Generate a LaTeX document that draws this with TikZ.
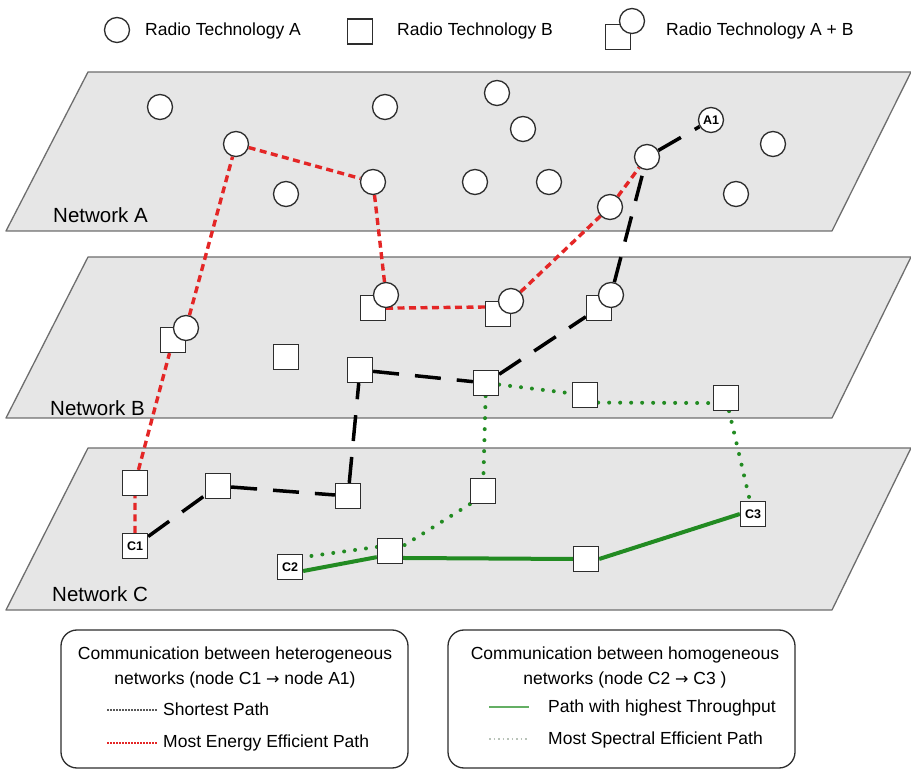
\documentclass[tikz,border=0pt]{standalone}
\usepackage{fontspec}
\setmainfont{Liberation Sans}
\newfontfamily\arrfont{DejaVu Sans}
\pgfdeclarelayer{bg}
\pgfdeclarelayer{edges}
\pgfsetlayers{bg,edges,main}
\definecolor{planegray}{RGB}{230,230,230}
\definecolor{edgegray}{RGB}{110,110,110}
\definecolor{nodeedge}{RGB}{45,45,45}
\definecolor{myred}{RGB}{228,38,38}
\definecolor{mygreen}{RGB}{34,139,34}
\definecolor{lightgreen}{RGB}{100,175,100}
\definecolor{paledot}{RGB}{185,195,185}
\newcommand\legfont{\fontsize{17.5}{25}\selectfont}
\newcommand\netfont{\fontsize{20.5}{24}\selectfont}
\newcommand\idfont{\bfseries\fontsize{12.5}{14}\selectfont}
\newcommand\rarr{{\arrfont\fontsize{16}{25}\selectfont →}}
\begin{document}
\begin{tikzpicture}[x=1pt,y=-1pt,
  plane/.style={fill=planegray, draw=edgegray, line width=1.3pt, line join=round},
  cnode/.style={circle, draw=nodeedge, fill=white, line width=1.3pt, minimum size=25pt, inner sep=0pt, font=\idfont},
  snode/.style={rectangle, draw=nodeedge, fill=white, line width=1.3pt, minimum width=25pt, minimum height=25pt, inner sep=0pt, font=\idfont},
  txt/.style={anchor=west, inner sep=0pt, font=\legfont},
  nettxt/.style={anchor=west, inner sep=0pt, font=\netfont},
  shortest/.style={draw=black, line width=3.5pt, dash pattern=on 26pt off 16pt},
  energy/.style={draw=myred, line width=3.4pt, dash pattern=on 7pt off 4.5pt},
  spectral/.style={draw=mygreen, line width=4pt, line cap=round, dash pattern=on 0pt off 11pt},
  thru/.style={draw=mygreen, line width=4pt},
  legbox/.style={draw=nodeedge, rounded corners=16pt, line width=1.3pt, minimum width=347pt, minimum height=138pt, inner sep=0pt},
  smpshort/.style={draw=gray!70!black, line width=1.2pt, dash pattern=on 1.5pt off 1.5pt},
  smpenergy/.style={draw=myred, line width=1.2pt, dash pattern=on 1.5pt off 1.5pt},
  smpthru/.style={draw=lightgreen, line width=2.5pt},
  smpspec/.style={draw=paledot, line width=1.5pt, dash pattern=on 1.5pt off 3pt},
]
\useasboundingbox (0,0) rectangle (911,775);

% planes
\begin{pgfonlayer}{bg}
\path[plane] (88,72) -- (911,72) -- (832,231) -- (6,231) -- cycle;
\path[plane] (88,257) -- (911,257) -- (832,418) -- (6,418) -- cycle;
\path[plane] (88,448) -- (911,448) -- (832,610) -- (6,610) -- cycle;
\end{pgfonlayer}
\node[nettxt] (labA) at (53,215) {Network A};
\node[nettxt] (labB) at (50,408) {Network B};
\node[nettxt] (labC) at (52,594) {Network C};

% top legend
\node[cnode] (lgA) at (117,30) {};
\node[txt] (lgAt) at (145,31) {Radio Technology A};
\node[snode] (lgB) at (360,31.5) {};
\node[txt] (lgBt) at (397,31) {Radio Technology B};
\node[snode] (lgABs) at (618,37) {};
\node[cnode] (lgABc) at (632,21) {};
\node[txt] (lgABt) at (666,31) {Radio Technology A + B};

% Network A
\node[cnode] (a1) at (160,107) {};
\node[cnode] (a2) at (385,107) {};
\node[cnode] (a3) at (497,93) {};
\node[cnode] (a4) at (523,129) {};
\node[cnode] (a5) at (236,144) {};
\node[cnode] (a6) at (286,194) {};
\node[cnode] (a7) at (373,182) {};
\node[cnode] (a8) at (475,182) {};
\node[cnode] (a9) at (549,182) {};
\node[cnode] (a10) at (647,157) {};
\node[cnode] (a11) at (610,207) {};
\node[cnode] (a12) at (773,144) {};
\node[cnode] (a13) at (736,194) {};
\node[cnode] (A1) at (711,120) {A1};

% Network B
\node[snode] (b1s) at (173,340) {};
\node[cnode] (b1c) at (186,328) {};
\node[snode] (b2s) at (373,308) {};
\node[cnode] (b2c) at (386,295) {};
\node[snode] (b3s) at (498,314) {};
\node[cnode] (b3c) at (511,301) {};
\node[snode] (b4s) at (599,308) {};
\node[cnode] (b4c) at (611,295) {};
\node[snode] (b5) at (286,357) {};
\node[snode] (b6) at (360,370) {};
\node[snode] (b7) at (486,383) {};
\node[snode] (b8) at (585,395) {};
\node[snode] (b9) at (726,398) {};

% Network C
\node[snode] (c1) at (135,483) {};
\node[snode] (C1) at (135,546) {C1};
\node[snode] (c2) at (218,486) {};
\node[snode] (c3) at (348,496) {};
\node[snode] (c4) at (483,491) {};
\node[snode] (C2) at (290,567) {C2};
\node[snode] (c5) at (390,551) {};
\node[snode] (c6) at (586,559) {};
\node[snode] (C3) at (753,514) {C3};

% paths
\begin{pgfonlayer}{edges}
\draw[energy] (C1) -- (c1) -- (b1s);
\draw[energy] (b1c) -- (a5) -- (a7) -- (b2c);
\draw[energy] (b2c.south) -- (b3s.152);
\draw[energy] (b3c) -- (a11) -- (a10);
\draw[shortest] (C1) -- (c2) -- (c3) -- (b6) -- (b7) -- (b4s);
\draw[shortest] (b4c) -- (a10) -- (A1);
\draw[spectral] (b7) -- (b8);
\draw[spectral] (b8.-30) -- (b9.-159);
\draw[spectral] (b9) -- (C3);
\draw[spectral] (b7) -- (c4);
\draw[spectral] (c4.south west) -- (c5.21);
\draw[spectral] (c5.163) -- (C2.37);
\draw[thru] (C2.-17) -- (c5.-155);
\draw[thru] (c5.-28) -- (c6.west);
\draw[thru] (c6.east) -- (C3.west);
\end{pgfonlayer}

% bottom legends
\node[legbox] (boxL) at (234.5,699) {};
\node[legbox] (boxR) at (621.5,699) {};
\node[align=center, inner sep=0pt, font=\legfont] (hL) at (235,667) {Communication between heterogeneous\\networks (node C1 \rarr{} node A1)};
\node[align=center, inner sep=0pt, font=\legfont] (hR) at (625,667) {Communication between homogeneous\\networks (node C2 \rarr{} C3 )};
\coordinate (sL1a) at (107,710); \coordinate (sL1b) at (157,710);
\draw[smpshort] (sL1a) -- (sL1b);
\node[txt] (tL1) at (163,709) {Shortest Path};
\coordinate (sL2a) at (107,743); \coordinate (sL2b) at (157,743);
\draw[smpenergy] (sL2a) -- (sL2b);
\node[txt] (tL2) at (163,743) {Most Energy Efficient Path};
\coordinate (sR1a) at (489,707); \coordinate (sR1b) at (529,707);
\draw[smpthru] (sR1a) -- (sR1b);
\node[txt] (tR1) at (548,708) {Path with highest Throughput};
\coordinate (sR2a) at (489,739); \coordinate (sR2b) at (529,739);
\draw[smpspec] (sR2a) -- (sR2b);
\node[txt] (tR2) at (548,740) {Most Spectral Efficient Path};
\end{tikzpicture}
\end{document}
